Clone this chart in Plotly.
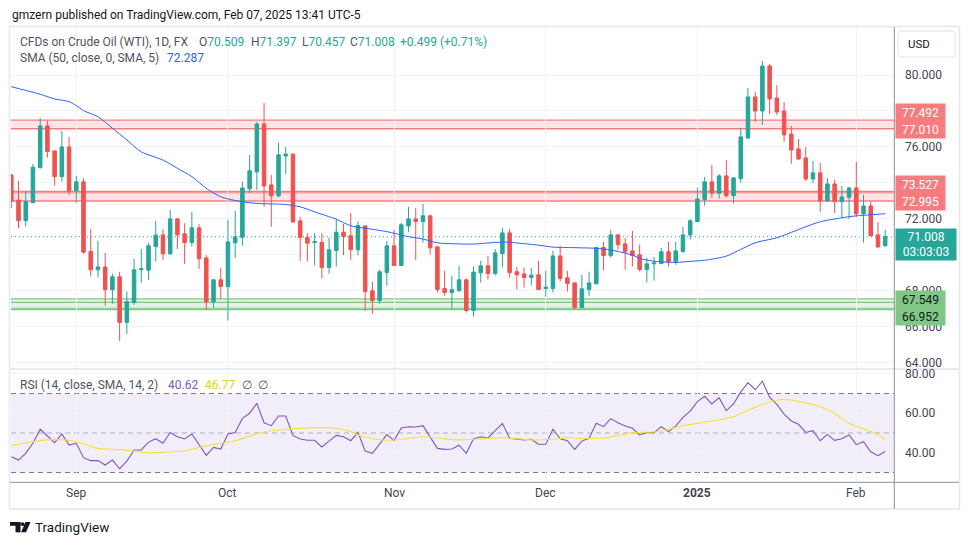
import plotly.graph_objects as go
import pandas as pd

# ---------------- data ----------------
holidays = ['2024-12-25', '2025-01-01']
dates = [d.strftime('%Y-%m-%d') for d in pd.bdate_range('2024-08-20', '2025-02-07')
         if d.strftime('%Y-%m-%d') not in holidays]

open_ = [74.44, 73.05, 71.90, 72.90, 74.85, 77.17, 75.78, 74.35, 76.00, 73.57,
         74.06, 70.20, 69.17, 69.33, 68.06, 68.78, 66.24, 67.35, 69.17, 69.15,
         70.46, 71.11, 70.06, 72.00, 71.17, 70.68, 71.50, 69.83, 67.39, 68.61,
         68.24, 70.67, 70.98, 73.67, 74.61, 77.28, 73.89, 73.28, 75.50, 75.60,
         71.89, 70.98, 70.68, 70.70, 69.29, 70.24, 71.26, 71.06, 70.28, 71.61,
         68.00, 67.46, 69.02, 70.50, 69.41, 71.61, 72.00, 71.85, 72.17, 70.44,
         68.13, 67.91, 68.02, 68.61, 66.91, 69.00, 69.39, 68.96, 70.07, 71.22,
         69.06, 68.94, 68.74, 68.89, 68.13, 68.13, 69.94, 68.72, 68.44, 67.07,
         68.07, 68.39, 70.41, 69.96, 71.11, 70.61, 70.22, 70.00, 69.18, 69.50,
         69.52, 70.17, 69.61, 70.18, 71.11, 71.85, 73.07, 74.06, 73.43, 74.39,
         73.29, 74.24, 76.50, 78.78, 78.00, 80.50, 78.72, 78.00, 76.72, 75.89,
         75.39, 74.22, 74.56, 73.00, 73.94, 72.96, 73.20, 73.72, 72.28, 72.72,
         71.11, 70.509]
high = [74.50, 74.12, 73.52, 75.05, 77.60, 77.46, 75.80, 76.89, 76.56, 74.39,
        74.26, 71.44, 70.78, 70.10, 68.96, 69.06, 67.96, 69.78, 70.33, 70.65,
        71.89, 71.43, 72.50, 72.05, 71.76, 72.39, 71.70, 69.98, 68.65, 69.28,
        71.94, 72.44, 74.06, 75.56, 77.39, 78.44, 74.44, 76.22, 76.00, 75.65,
        72.11, 71.20, 71.20, 71.20, 70.96, 72.00, 71.72, 72.33, 71.87, 71.65,
        68.50, 69.17, 70.78, 71.39, 71.78, 72.67, 72.61, 72.83, 72.22, 70.50,
        69.13, 68.83, 69.39, 68.69, 69.35, 69.67, 69.94, 70.33, 71.50, 71.44,
        69.33, 69.30, 69.28, 69.67, 69.11, 70.22, 70.50, 69.11, 68.48, 68.89,
        69.06, 70.45, 70.72, 71.39, 71.17, 70.93, 71.33, 70.56, 69.83, 69.89,
        70.39, 70.72, 70.72, 71.56, 72.00, 73.72, 74.33, 75.00, 74.50, 75.28,
        74.32, 77.07, 79.28, 79.06, 80.78, 80.61, 79.44, 78.50, 77.17, 76.44,
        76.00, 75.22, 75.11, 74.28, 74.17, 73.83, 73.78, 75.17, 73.33, 72.94,
        71.83, 71.397]
low = [72.60, 71.47, 71.57, 72.87, 74.80, 75.40, 73.85, 74.07, 73.33, 72.90,
       70.06, 68.80, 68.74, 67.18, 67.29, 65.22, 65.60, 67.22, 68.46, 68.60,
       69.63, 69.72, 70.00, 70.33, 69.50, 70.46, 69.22, 66.94, 67.06, 67.54,
       66.35, 69.83, 70.50, 73.44, 73.61, 72.67, 71.56, 73.20, 74.50, 71.78,
       69.67, 69.63, 69.41, 68.68, 68.96, 69.35, 69.98, 69.72, 69.98, 66.89,
       66.72, 67.28, 68.28, 69.38, 69.38, 71.28, 69.72, 70.68, 70.02, 67.91,
       67.72, 66.98, 67.93, 66.79, 66.57, 68.46, 68.63, 68.85, 69.30, 68.74,
       68.07, 68.18, 68.30, 68.05, 67.68, 67.91, 68.52, 67.96, 66.96, 67.05,
       67.72, 68.35, 69.13, 69.85, 70.28, 69.18, 69.35, 69.07, 68.46, 68.57,
       69.48, 69.35, 69.44, 70.13, 70.85, 71.82, 72.74, 73.17, 73.13, 73.18,
       72.85, 74.02, 76.45, 77.39, 77.22, 77.83, 77.78, 76.28, 75.06, 75.28,
       74.11, 74.00, 72.39, 72.98, 72.33, 72.06, 72.00, 72.11, 70.68, 71.04,
       70.39, 70.457]
close = [72.99, 71.90, 72.96, 74.87, 77.17, 75.74, 74.35, 76.00, 73.57, 74.06,
         70.15, 69.17, 69.33, 68.06, 68.78, 66.24, 67.39, 69.17, 69.22, 70.50,
         71.10, 70.06, 72.00, 71.11, 70.68, 71.50, 69.78, 67.39, 68.61, 68.24,
         70.72, 71.00, 73.72, 74.67, 77.28, 73.83, 73.28, 75.56, 75.60, 71.83,
         70.96, 70.65, 70.74, 69.29, 70.28, 71.26, 71.02, 70.28, 71.63, 67.96,
         67.46, 69.06, 70.50, 69.41, 71.67, 72.00, 71.85, 72.17, 70.39, 68.07,
         67.91, 68.06, 68.61, 66.91, 69.04, 69.39, 68.96, 70.11, 71.22, 69.02,
         68.89, 68.74, 68.87, 68.07, 68.20, 69.94, 68.69, 68.41, 67.07, 68.11,
         68.44, 70.41, 69.96, 71.11, 70.57, 70.18, 69.96, 69.18, 69.50, 69.56,
         70.17, 69.61, 70.22, 71.11, 71.89, 73.11, 74.06, 73.43, 74.39, 73.29,
         74.28, 76.56, 78.78, 78.00, 80.50, 78.67, 77.94, 76.67, 75.83, 75.33,
         74.22, 74.56, 73.00, 73.94, 72.96, 73.22, 73.72, 72.28, 72.72, 71.06,
         70.44, 71.008]

# SMA(50) read at bar positions (bar index, value)
sma_idx = [0, 3, 4, 6, 8, 9, 10, 12, 14, 16, 18, 21, 23, 25, 27, 29, 32, 34, 38, 40,
           42, 45, 47, 50, 52, 55, 57, 59, 61, 64, 67, 69, 70, 73, 75, 78, 81, 83, 86, 87,
           89, 92, 94, 96, 99, 101, 103, 106, 108, 110, 112, 115, 117, 119, 121]
sma_val = [79.35, 79.04, 78.93, 78.67, 78.52, 78.30, 78.02, 77.68, 77.04, 76.39,
           75.73, 75.27, 74.81, 74.35, 73.70, 73.23, 72.95, 72.86, 72.80, 72.67,
           72.39, 71.98, 71.62, 71.42, 71.29, 71.01, 70.88, 70.67, 70.62, 70.60,
           70.69, 70.71, 70.66, 70.54, 70.43, 70.40, 70.36, 70.27, 69.99, 69.80,
           69.65, 69.58, 69.64, 69.70, 69.93, 70.30, 70.67, 70.95, 71.25, 71.56,
           71.84, 72.06, 72.17, 72.23, 72.287]

rsi = [38.0, 36.3, 39.7, 44.8, 51.9, 48.5, 45.1, 49.5, 43.9, 44.8,
       37.5, 36.0, 36.0, 33.8, 36.3, 31.9, 35.8, 41.4, 41.4, 45.4,
       47.1, 44.8, 50.3, 48.1, 47.0, 49.5, 43.9, 38.7, 42.7, 41.9,
       49.5, 50.2, 57.4, 60.0, 65.0, 55.2, 53.7, 58.6, 58.6, 48.8,
       47.0, 46.3, 46.3, 42.9, 45.9, 48.8, 48.1, 46.1, 50.3, 40.9,
       39.7, 44.4, 49.2, 46.3, 52.5, 53.2, 53.0, 53.7, 48.1, 42.2,
       41.7, 41.9, 43.8, 39.7, 47.1, 48.1, 47.5, 51.2, 54.9, 47.3,
       47.0, 46.5, 46.8, 44.3, 44.3, 51.9, 47.1, 46.1, 41.7, 45.9,
       47.3, 54.9, 53.2, 57.3, 55.2, 53.5, 52.4, 49.0, 50.2, 50.2,
       53.2, 50.7, 53.5, 57.9, 61.1, 65.9, 68.6, 64.7, 67.9, 61.3,
       64.7, 70.8, 75.5, 71.9, 76.2, 68.1, 64.5, 59.6, 56.1, 54.4,
       50.3, 51.2, 46.1, 49.3, 46.3, 47.1, 49.0, 44.1, 45.6, 40.5,
       38.5, 40.62]

rsi_ma_idx = [0, 3, 5, 8, 10, 12, 15, 17, 19, 21, 24, 26, 28, 31, 33, 35, 38, 40, 42, 45,
              47, 49, 52, 54, 57, 59, 62, 65, 68, 70, 72, 75, 77, 79, 82, 84, 86, 89, 91, 93,
              96, 98, 100, 102, 105, 107, 109, 112, 114, 116, 119, 121]
rsi_ma_val = [43.6, 45.6, 46.5, 46.3, 44.4, 42.2, 41.6, 40.9, 40.0, 40.2,
              41.0, 42.7, 44.1, 46.1, 48.5, 50.5, 51.9, 52.4, 52.7, 52.4,
              50.7, 47.8, 46.3, 46.8, 48.1, 47.5, 46.5, 47.1, 47.6, 47.1,
              46.5, 46.8, 47.6, 47.3, 47.5, 48.8, 50.2, 50.5, 51.9, 53.7,
              55.4, 56.6, 58.3, 61.5, 65.7, 67.1, 66.0, 63.3, 60.0, 54.9,
              50.7, 46.77]

red_zones = [(77.492, 77.010), (73.527, 72.995)]
green_zones = [(67.549, 66.952)]
last_price = 71.008

month_dates = ['2024-09-02', '2024-10-01', '2024-11-01', '2024-12-02', '2025-01-02', '2025-02-03']
month_text = ['Sep', 'Oct', 'Nov', 'Dec', '<b>2025</b>', 'Feb']
price_labels = [80, 76, 72, 68, 66, 64]
rsi_labels = [80, 60, 40]

# ---------------- geometry helpers (pixel -> paper) ----------------
W, H = 970, 545
L, R, T, B = 11, 76, 27, 63
PW, PH = W - L - R, H - T - B


def PX(x):
    return (x - L) / PW


def PY(y):
    return (H - B - y) / PH


FONT = 'Roboto'
TEAL, RED = '#26a69a', '#ef5350'
GRID = '#f0f3fa'

fig = go.Figure()
fig.add_trace(go.Candlestick(
    x=dates, open=open_, high=high, low=low, close=close,
    increasing=dict(line=dict(color=TEAL, width=1), fillcolor=TEAL),
    decreasing=dict(line=dict(color=RED, width=1), fillcolor=RED),
    whiskerwidth=0, hoverinfo='skip', xaxis='x', yaxis='y'))
fig.add_trace(go.Scatter(
    x=[dates[i] for i in sma_idx], y=sma_val, mode='lines',
    line=dict(color='#2962ff', width=1, shape='spline', smoothing=0.8),
    hoverinfo='skip', xaxis='x', yaxis='y'))
fig.add_trace(go.Scatter(
    x=dates, y=rsi, mode='lines', line=dict(color='#7e57c2', width=1.1),
    hoverinfo='skip', xaxis='x2', yaxis='y2'))
fig.add_trace(go.Scatter(
    x=[dates[i] for i in rsi_ma_idx], y=rsi_ma_val, mode='lines',
    line=dict(color='#f7e03a', width=1.1, shape='spline', smoothing=0.8),
    hoverinfo='skip', xaxis='x2', yaxis='y2'))

shapes = []
# zones
for top, bot in red_zones:
    shapes.append(dict(type='rect', xref='paper', yref='y', x0=0, x1=1, y0=bot, y1=top,
                       fillcolor='rgba(242,54,69,0.13)', line=dict(width=0), layer='between'))
    shapes.append(dict(type='line', xref='paper', yref='y', x0=0, x1=1, y0=top, y1=top,
                       line=dict(color='#f77c80', width=1.3), layer='between'))
    shapes.append(dict(type='line', xref='paper', yref='y', x0=0, x1=1, y0=bot, y1=bot,
                       line=dict(color='#f77c80', width=1.6), layer='between'))
shapes.append(dict(type='line', xref='paper', yref='y', x0=0, x1=1, y0=73.45, y1=73.45,
                   line=dict(color='#f77c80', width=1), layer='between'))
for top, bot in green_zones:
    shapes.append(dict(type='rect', xref='paper', yref='y', x0=0, x1=1, y0=bot, y1=top,
                       fillcolor='rgba(76,175,80,0.15)', line=dict(width=0), layer='between'))
    for v in (top, 67.36, 67.03, bot):
        shapes.append(dict(type='line', xref='paper', yref='y', x0=0, x1=1, y0=v, y1=v,
                           line=dict(color='#81c784', width=1.2), layer='between'))
# last price dotted line
shapes.append(dict(type='line', xref='paper', yref='y', x0=0, x1=1, y0=last_price, y1=last_price,
                   line=dict(color=TEAL, width=1, dash='1px,3px'), layer='between'))
# RSI band
shapes.append(dict(type='rect', xref='paper', yref='y2', x0=0, x1=1, y0=30, y1=70,
                   fillcolor='rgba(126,87,194,0.10)', line=dict(width=0), layer='between'))
for v, c in ((70, '#787b86'), (30, '#787b86'), (50, 'rgba(120,123,134,0.55)')):
    shapes.append(dict(type='line', xref='paper', yref='y2', x0=0, x1=1, y0=v, y1=v,
                       line=dict(color=c, width=1, dash='5px,4px'), layer='between'))
# frame and separators
shapes.append(dict(type='rect', xref='paper', yref='paper', x0=PX(9.5), x1=PX(959.5),
                   y0=PY(509), y1=PY(26.5), line=dict(color='#e6e8ee', width=1.5), layer='above'))
shapes.append(dict(type='line', xref='paper', yref='paper', x0=PX(10), x1=PX(959),
                   y0=PY(369), y1=PY(369), line=dict(color='#e0e3eb', width=1.5), layer='above'))
shapes.append(dict(type='line', xref='paper', yref='paper', x0=PX(894.3), x1=PX(894.3),
                   y0=PY(27), y1=PY(509), line=dict(color='#8c8f99', width=1), layer='above'))
shapes.append(dict(type='line', xref='paper', yref='paper', x0=PX(10), x1=PX(959),
                   y0=PY(482.3), y1=PY(482.3), line=dict(color='#8c8f99', width=1), layer='above'))
# USD box
x0b, x1b, y0b, y1b, rr = 898, 955, 31, 57, 4
path = (f"M {PX(x0b+rr)},{PY(y0b)} L {PX(x1b-rr)},{PY(y0b)} Q {PX(x1b)},{PY(y0b)} {PX(x1b)},{PY(y0b+rr)} "
        f"L {PX(x1b)},{PY(y1b-rr)} Q {PX(x1b)},{PY(y1b)} {PX(x1b-rr)},{PY(y1b)} "
        f"L {PX(x0b+rr)},{PY(y1b)} Q {PX(x0b)},{PY(y1b)} {PX(x0b)},{PY(y1b-rr)} "
        f"L {PX(x0b)},{PY(y0b+rr)} Q {PX(x0b)},{PY(y0b)} {PX(x0b+rr)},{PY(y0b)} Z")
shapes.append(dict(type='path', xref='paper', yref='paper', path=path,
                   line=dict(color='#e0e3eb', width=1), fillcolor='white', layer='above'))
# TradingView logo mark
shapes.append(dict(type='rect', xref='paper', yref='paper', x0=PX(10), x1=PX(20.5), y0=PY(525.8), y1=PY(522),
                   fillcolor='#131722', line=dict(width=0), layer='above'))
shapes.append(dict(type='rect', xref='paper', yref='paper', x0=PX(15.5), x1=PX(20.5), y0=PY(532.3), y1=PY(522),
                   fillcolor='#131722', line=dict(width=0), layer='above'))
shapes.append(dict(type='circle', xref='paper', yref='paper', x0=PX(20.8), x1=PX(24.6), y0=PY(526), y1=PY(522.2),
                   fillcolor='#131722', line=dict(width=0), layer='above'))
shapes.append(dict(type='path', xref='paper', yref='paper',
                   path=f"M {PX(25.5)},{PY(522)} L {PX(30.5)},{PY(522)} L {PX(26)},{PY(532.3)} L {PX(21)},{PY(532.3)} Z",
                   fillcolor='#131722', line=dict(width=0), layer='above'))

ann = []


def text(x, y, s, size=12, color='#131722', xanchor='left', yref='paper', **kw):
    d = dict(x=PX(x), y=(PY(y) if yref == 'paper' else y), xref='paper', yref=yref, text=s,
             showarrow=False, xanchor=xanchor, yanchor='middle',
             font=dict(family=FONT, size=size, color=color))
    d.update(kw)
    ann.append(d)


# header
text(10, 14.5, 'gmzern published on TradingView.com, Feb 07, 2025 13:41 UTC-5', size=12, color='#131722')
GR = '#50535e'
text(18, 42, 'CFDs on Crude Oil (WTI), 1D, FX', size=12, color=GR)
tc = f"<span style='color:{TEAL}'>"
text(196.5, 42, f"O{tc}70.509</span>", size=12, color=GR)
text(249, 42, f"H{tc}71.397</span>", size=12, color=GR)
text(300, 42, f"L{tc}70.457</span>", size=12, color=GR)
text(347.5, 42, f"C{tc}71.008</span>", size=12, color=GR)
text(398.3, 42, f"{tc}+0.499 (+0.71%)</span>", size=12, color=GR)
text(18, 58.5, 'SMA (50, close, 0, SMA, 5)', size=12, color=GR)
text(165, 58.5, '72.287', size=12, color='#2962ff')
# RSI legend
text(18, 385, 'RSI (14, close, SMA, 14, 2)', size=12, color=GR)
text(166, 385, '40.62', size=12, color='#7e57c2')
text(203, 385, '46.77', size=12, color='#e8cf1a')
text(240, 385, '\u2205  \u2205', size=12, color=GR)
# USD
text(906, 44, 'USD', size=11.5, color='#131722')
# price scale labels
for v in price_labels:
    text(903, v, f'{v:.3f}', size=12, color='#434651', yref='y')
for v in rsi_labels:
    text(903, v, f'{v:.2f}', size=12, color='#434651', yref='y2')
# zone / price labels (drawn after scale labels so they cover them)
for s, yc in (('77.492', 112.5), ('77.010', 129.5), ('73.527', 184.5), ('72.995', 201)):
    ann.append(dict(x=PX(895), y=PY(yc), xref='paper', yref='paper', text=s, showarrow=False,
                    xanchor='left', yanchor='middle', width=49, height=17, bgcolor='#f77c80',
                    borderpad=0, font=dict(family=FONT, size=12, color='white')))
for s, yc in (('67.549', 299.5), ('66.952', 316.5)):
    ann.append(dict(x=PX(895), y=PY(yc), xref='paper', yref='paper', text=s, showarrow=False,
                    xanchor='left', yanchor='middle', width=49, height=17, bgcolor='#81c784',
                    borderpad=0, font=dict(family=FONT, size=12, color='#131722')))
ann.append(dict(x=PX(895), y=PY(244.5), xref='paper', yref='paper', text='71.008<br>03:03:03',
                showarrow=False, xanchor='left', yanchor='middle', width=60, height=31, bgcolor=TEAL,
                borderpad=0, font=dict(family=FONT, size=12, color='white')))
# month labels
for d, s in zip(month_dates, month_text):
    ann.append(dict(x=d, y=PY(493), xref='x', yref='paper', text=s, showarrow=False,
                    xanchor='center', yanchor='middle', font=dict(family=FONT, size=12, color='#434651')))
# TradingView wordmark
text(33, 527, 'TradingView', size=13.5, color='#131722')

x_common = dict(type='category', categoryorder='array', categoryarray=dates,
                range=[-0.04, 122.22], showgrid=True, gridcolor=GRID, gridwidth=1,
                tickvals=month_dates, showticklabels=False, ticks='', zeroline=False,
                showline=False, fixedrange=True)

fig.update_layout(
    width=W, height=H, margin=dict(l=L, r=R, t=T, b=B, autoexpand=False),
    paper_bgcolor='white', plot_bgcolor='white', showlegend=False,
    font=dict(family=FONT),
    xaxis=dict(domain=[0, 1], anchor='y', rangeslider=dict(visible=False), **x_common),
    xaxis2=dict(domain=[0, 1], anchor='y2', matches='x', **x_common),
    yaxis=dict(domain=[(H - B - 368.5) / PH, 1], range=[63.68, 82.67], tickvals=list(range(64, 81, 2)),
               showgrid=True, gridcolor=GRID, showticklabels=False, ticks='', zeroline=False, fixedrange=True),
    yaxis2=dict(domain=[0, (H - B - 369.5) / PH], range=[25.19, 82.15], tickvals=[40, 60, 80],
                showgrid=True, gridcolor=GRID, showticklabels=False, ticks='', zeroline=False, fixedrange=True),
    shapes=shapes, annotations=ann,
)

fig.write_html('out.html', config={'displayModeBar': False},
               post_script="document.body.style.margin='0';document.body.style.overflow='hidden';")
